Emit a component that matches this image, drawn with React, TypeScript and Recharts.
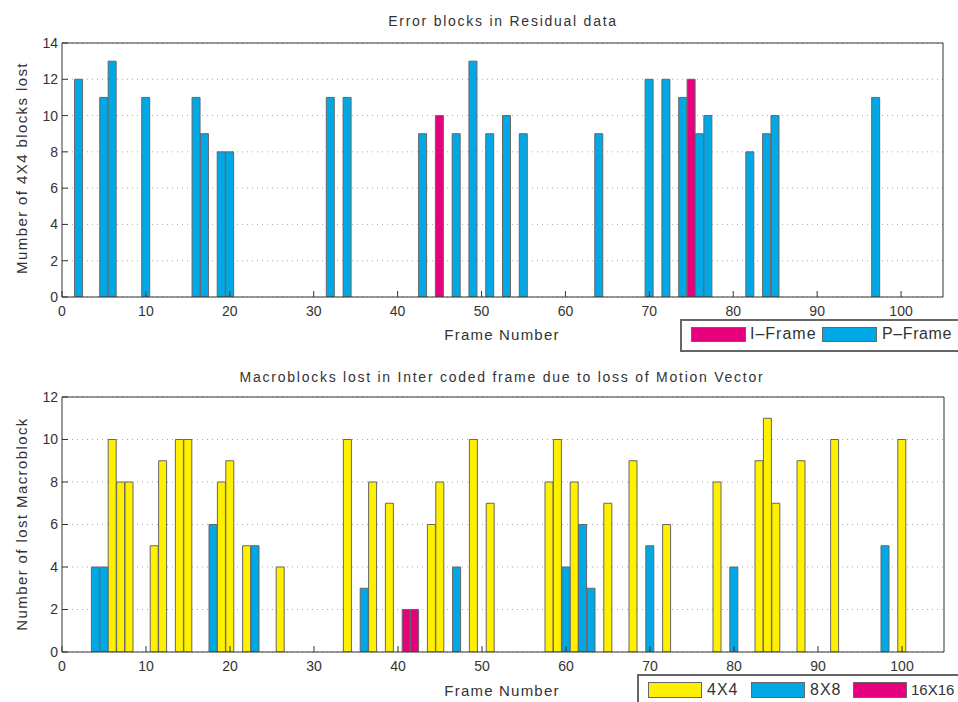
import { BarChart, Bar, XAxis, YAxis, CartesianGrid } from "recharts"

// top panel: error blocks in residual data
const topPFrames = [2, 5, 6, 10, 16, 17, 19, 20, 32, 34, 43, 47, 49, 51, 53, 55, 64, 70, 72, 74, 76, 77, 82, 84, 85, 97]
const topPValues = [12, 11, 13, 11, 11, 9, 8, 8, 11, 11, 9, 9, 13, 9, 10, 9, 9, 12, 12, 11, 9, 10, 8, 9, 10, 11]
const topIFrames = [45, 75]
const topIValues = [10, 12]

// bottom panel: macroblocks lost per block size
const bot4Frames = [6, 7, 8, 11, 12, 14, 15, 19, 20, 22, 26, 34, 37, 39, 44, 45, 49, 51, 58, 59, 61, 65, 68, 72, 78, 83, 84, 85, 88, 92, 100]
const bot4Values = [10, 8, 8, 5, 9, 10, 10, 8, 9, 5, 4, 10, 8, 7, 6, 8, 10, 7, 8, 10, 8, 7, 9, 6, 8, 9, 11, 7, 9, 10, 10]
const bot8Frames = [4, 5, 18, 23, 36, 47, 60, 62, 63, 70, 80, 98]
const bot8Values = [4, 4, 6, 5, 3, 4, 4, 6, 3, 5, 4, 5]
const bot16Frames = [41, 42]
const bot16Values = [2, 2]

const xTicks = [0, 10, 20, 30, 40, 50, 60, 70, 80, 90, 100]
const topYTicks = [0, 2, 4, 6, 8, 10, 12, 14]
const botYTicks = [0, 2, 4, 6, 8, 10, 12]

const PINK = "#e6007e"
const BLUE = "#00a9e6"
const YELLOW = "#fff000"
const EDGE = "#666"
const TEXT = "#333"
const FONT = "'Liberation Sans', Arial, sans-serif"

type Series = { key: string; frames: number[]; values: number[] }

function buildRows(series: Series[]) {
  const map = new Map<number, any>()
  series.forEach((s) =>
    s.frames.forEach((f, i) => {
      const row = map.get(f) ?? { frame: f }
      row[s.key] = s.values[i]
      map.set(f, row)
    })
  )
  return [...map.values()].sort((a, b) => a.frame - b.frame)
}

const topRows = buildRows([
  { key: "iFrame", frames: topIFrames, values: topIValues },
  { key: "pFrame", frames: topPFrames, values: topPValues },
])

const botRows = buildRows([
  { key: "b4", frames: bot4Frames, values: bot4Values },
  { key: "b8", frames: bot8Frames, values: bot8Values },
  { key: "b16", frames: bot16Frames, values: bot16Values },
])

const tickStyle = { fill: TEXT, fontSize: 14, fontFamily: FONT }

// MATLAB style box: ticks pointing inwards on all four sides
function Axes({ yMax, yTicks }: { yMax: number; yTicks: number[] }) {
  return [
    <CartesianGrid key="g" vertical={false} stroke="#aaa" strokeDasharray="1 4" />,
    <XAxis
      key="xb"
      dataKey="frame"
      type="number"
      domain={[0, 105]}
      ticks={xTicks}
      interval={0}
      allowDataOverflow
      height={30}
      tickSize={-6}
      tickMargin={15}
      tick={tickStyle}
      stroke={TEXT}
    />,
    <XAxis
      key="xt"
      xAxisId="t"
      orientation="top"
      dataKey="frame"
      type="number"
      domain={[0, 105]}
      ticks={xTicks}
      interval={0}
      allowDataOverflow
      height={2}
      tickSize={-6}
      tick={false}
      stroke={TEXT}
    />,
    <YAxis
      key="yl"
      type="number"
      domain={[0, yMax]}
      ticks={yTicks}
      interval={0}
      allowDataOverflow
      width={40}
      tickSize={-6}
      tickMargin={10}
      tick={tickStyle}
      stroke={TEXT}
    />,
    <YAxis
      key="yr"
      yAxisId="r"
      orientation="right"
      type="number"
      domain={[0, yMax]}
      ticks={yTicks}
      interval={0}
      allowDataOverflow
      width={2}
      tickSize={-6}
      tick={false}
      stroke={TEXT}
    />,
  ]
}

function Text({ x, y, size, children, rotate, spacing }: any) {
  return (
    <div
      style={{
        position: "absolute",
        left: x,
        top: y,
        transform: `translate(-50%, -50%)${rotate ? " rotate(-90deg)" : ""}`,
        whiteSpace: "nowrap",
        fontSize: size,
        letterSpacing: spacing ?? 0,
        color: TEXT,
        fontFamily: FONT,
      }}
    >
      {children}
    </div>
  )
}

function Swatch({ x, y, w, h, color }: any) {
  return (
    <div
      style={{
        position: "absolute",
        left: x,
        top: y,
        width: w,
        height: h,
        background: color,
        boxSizing: "border-box",
        border: `1px solid ${EDGE}`,
      }}
    />
  )
}

function LegendLabel({ x, y, size = 16, spacing = 1, children }: any) {
  return (
    <div
      style={{
        position: "absolute",
        left: x,
        top: y,
        fontSize: size,
        letterSpacing: spacing,
        color: TEXT,
        fontFamily: FONT,
        whiteSpace: "nowrap",
        lineHeight: "16px",
      }}
    >
      {children}
    </div>
  )
}

export default function App() {
  return (
    <div
      style={{
        position: "absolute",
        left: 0,
        top: 0,
        width: 958,
        height: 702,
        overflow: "hidden",
        background: "#fff",
        fontFamily: FONT,
      }}
    >
      <div style={{ position: "absolute", left: 0, top: 0 }}>
        <BarChart width={958} height={351} data={topRows} margin={{ top: 41, right: 13, bottom: 24, left: 22 }}>
          {Axes({ yMax: 14, yTicks: topYTicks })}
          <Bar dataKey="iFrame" stackId="a" fill={PINK} stroke={EDGE} barSize={8} isAnimationActive={false} />
          <Bar dataKey="pFrame" stackId="a" fill={BLUE} stroke={EDGE} barSize={8} isAnimationActive={false} />
        </BarChart>
      </div>
      <div style={{ position: "absolute", left: 0, top: 351 }}>
        <BarChart width={958} height={351} data={botRows} margin={{ top: 44, right: 12, bottom: 20, left: 22 }}>
          {Axes({ yMax: 12, yTicks: botYTicks })}
          <Bar dataKey="b4" stackId="a" fill={YELLOW} stroke={EDGE} barSize={8} isAnimationActive={false} />
          <Bar dataKey="b8" stackId="a" fill={BLUE} stroke={EDGE} barSize={8} isAnimationActive={false} />
          <Bar dataKey="b16" stackId="a" fill={PINK} stroke={EDGE} barSize={8} isAnimationActive={false} />
        </BarChart>
      </div>

      <Text x={503} y={21} size={14} spacing={1.75}>Error blocks in Residual data</Text>
      <Text x={502} y={334} size={15} spacing={1.2}>Frame Number</Text>
      <Text x={21} y={168} size={15} rotate spacing={1.4}>Mumber of 4X4 blocks lost</Text>

      <Text x={502} y={377} size={14} spacing={1.75}>Macroblocks lost in Inter coded frame due to loss of Motion Vector</Text>
      <Text x={502} y={690} size={15} spacing={1.2}>Frame Number</Text>
      <Text x={21} y={524} size={15} rotate spacing={1.4}>Number of lost Macroblock</Text>

      <div style={{ position: "absolute", left: 680, top: 319, width: 320, height: 29, border: "2px solid #666" }} />
      <Swatch x={691} y={327} w={55} h={15} color={PINK} />
      <LegendLabel x={750} y={326}>I–Frame</LegendLabel>
      <Swatch x={822} y={327} w={55} h={15} color={BLUE} />
      <LegendLabel x={882} y={326} spacing={0.6}>P–Frame</LegendLabel>

      <div style={{ position: "absolute", left: 637, top: 674, width: 340, height: 40, border: "2px solid #666" }} />
      <Swatch x={648} y={682} w={54} h={16} color={YELLOW} />
      <LegendLabel x={707} y={682}>4X4</LegendLabel>
      <Swatch x={751} y={682} w={54} h={16} color={BLUE} />
      <LegendLabel x={810} y={682}>8X8</LegendLabel>
      <Swatch x={853} y={682} w={54} h={16} color={PINK} />
      <LegendLabel x={911} y={682} size={15} spacing={0}>16X16</LegendLabel>
    </div>
  )
}
